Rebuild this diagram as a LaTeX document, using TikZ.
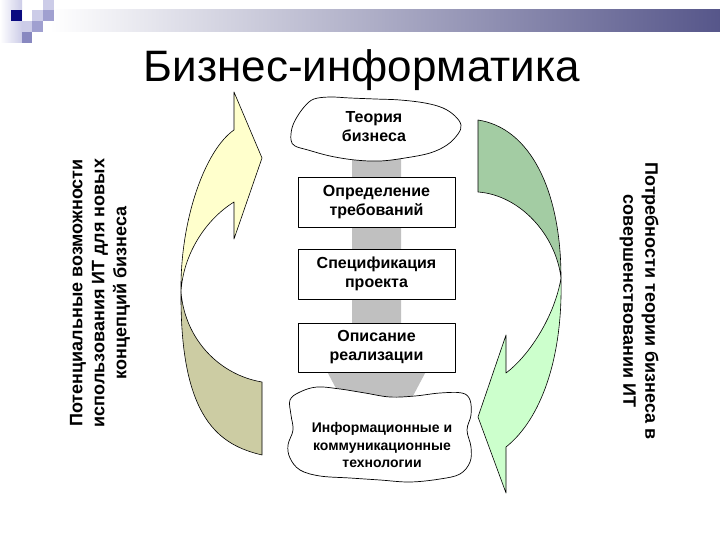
\documentclass[tikz,border=0pt]{standalone}
\usepackage{fontspec}
\setmainfont{Liberation Sans}
\definecolor{bandblue}{RGB}{86,86,138}
\definecolor{logodark}{RGB}{10,10,128}
\definecolor{logolight}{RGB}{204,204,232}
\definecolor{logomid}{RGB}{160,160,208}
\definecolor{logomidb}{RGB}{136,136,192}
\definecolor{arrowgray}{RGB}{192,192,192}
\definecolor{leftlight}{RGB}{255,255,204}
\definecolor{leftdark}{RGB}{204,204,163}
\definecolor{rightdark}{RGB}{163,204,163}
\definecolor{rightlight}{RGB}{204,255,204}
\begin{document}
\begin{tikzpicture}[x=1pt,y=-1pt,line join=round,
  boxtext/.style={font=\fontsize{16}{19}\selectfont\bfseries,align=center},
  smalltext/.style={font=\fontsize{14}{17.5}\selectfont\bfseries,align=center},
  stagebox/.style={draw=black,fill=white,line width=0.8pt,minimum width=157pt,minimum height=50pt,inner sep=0pt,boxtext},
  cloudline/.style={draw=black,fill=white,line width=0.7pt},
  sidetext/.style={font=\fontsize{18}{22}\selectfont\bfseries,align=center},
  arrowline/.style={draw=black,line width=0.6pt}]
\useasboundingbox (0,0) rectangle (720,540);
\fill[white] (0,0) rectangle (720,540);
% top band
\shade[left color=white,right color=bandblue] (50,10) rectangle (720,32);
% logo
\shade[left color=white,right color=logolight] (0,0) rectangle (22,43);
\fill[logodark] (11,10) rectangle (22,21);
\fill[logolight] (43,0) rectangle (54,10);
\fill[logolight] (32,10) rectangle (43,21);
\fill[logomid] (43,10) rectangle (54,21);
\fill[logolight] (22,21) rectangle (32,32);
\fill[logomid] (32,21) rectangle (43,32);
\fill[logomidb] (22,32) rectangle (32,43);
% title
\node[font=\fontsize{44}{52}\selectfont,anchor=base,inner sep=0pt] (title) at (362,82) {Бизнес-информатика};
% gray arrow
\fill[arrowgray] (352,150) -- (401,150) -- (401,360) -- (432,360) -- (376.5,465) -- (321,360) -- (352,360) -- cycle;
% boxes
\node[stagebox] (req) at (376.5,202) {Определение\\требований};
\node[stagebox] (spec) at (376.5,274) {Спецификация\\проекта};
\node[stagebox,minimum height=49pt] (impl) at (376.5,347.5) {Описание\\реализации};
% clouds
\draw[cloudline] plot[smooth cycle,tension=0.6] coordinates {(291,140) (292,128) (297,117) (305,106) (314,99) (330,97) (350,98) (375,99) (400,100) (425,103) (443,108) (455,116) (461,125) (458,134) (447,145) (430,153) (405,158) (380,161) (355,160) (330,156) (308,150) (295,146)};
\node[boxtext] (theory) at (374,127) {Теория\\бизнеса};
\draw[cloudline] plot[smooth cycle,tension=0.6] coordinates {(290,400) (300,392) (317,387) (340,389) (365,393) (390,397) (415,396) (440,393) (462,393) (470,400) (471,415) (467,430) (471,447) (470,462) (460,474) (440,479) (410,482) (380,480) (350,478) (320,476) (300,470) (290,458) (288,445) (293,430) (291,415)};
\node[smalltext] (ict) at (382,445) {Информационные и\\коммуникационные\\технологии};
% left curved arrow
\path[arrowline,fill=leftdark] (181,292) .. controls (180,420) and (220,445) .. (262,455) -- (262,382) .. controls (220,375) and (185,340) .. (181,292) -- cycle;
\path[arrowline,fill=leftlight] (181,292) .. controls (180,220) and (205,150) .. (234,130) -- (234,92) -- (262,158) -- (234,239) -- (234,202) .. controls (205,220) and (183,255) .. (181,292) -- cycle;
% right curved arrow
\path[arrowline,fill=rightdark] (478,120) .. controls (530,128) and (561,190) .. (561,278) .. controls (556,235) and (520,195) .. (478,192) -- cycle;
\path[arrowline,fill=rightlight] (561,278) .. controls (563,360) and (540,420) .. (506,447) -- (506,493) -- (478,417) -- (506,335) -- (506,373) .. controls (530,355) and (555,315) .. (561,278) -- cycle;
% side labels
\node[sidetext,rotate=90] (leftlabel) at (100,293) {Потенциальные возможности\\использования ИТ для новых\\концепций бизнеса};
\node[sidetext,rotate=-90] (rightlabel) at (639,301) {Потребности теории бизнеса в\\совершенствовании ИТ};
\end{tikzpicture}
\end{document}
